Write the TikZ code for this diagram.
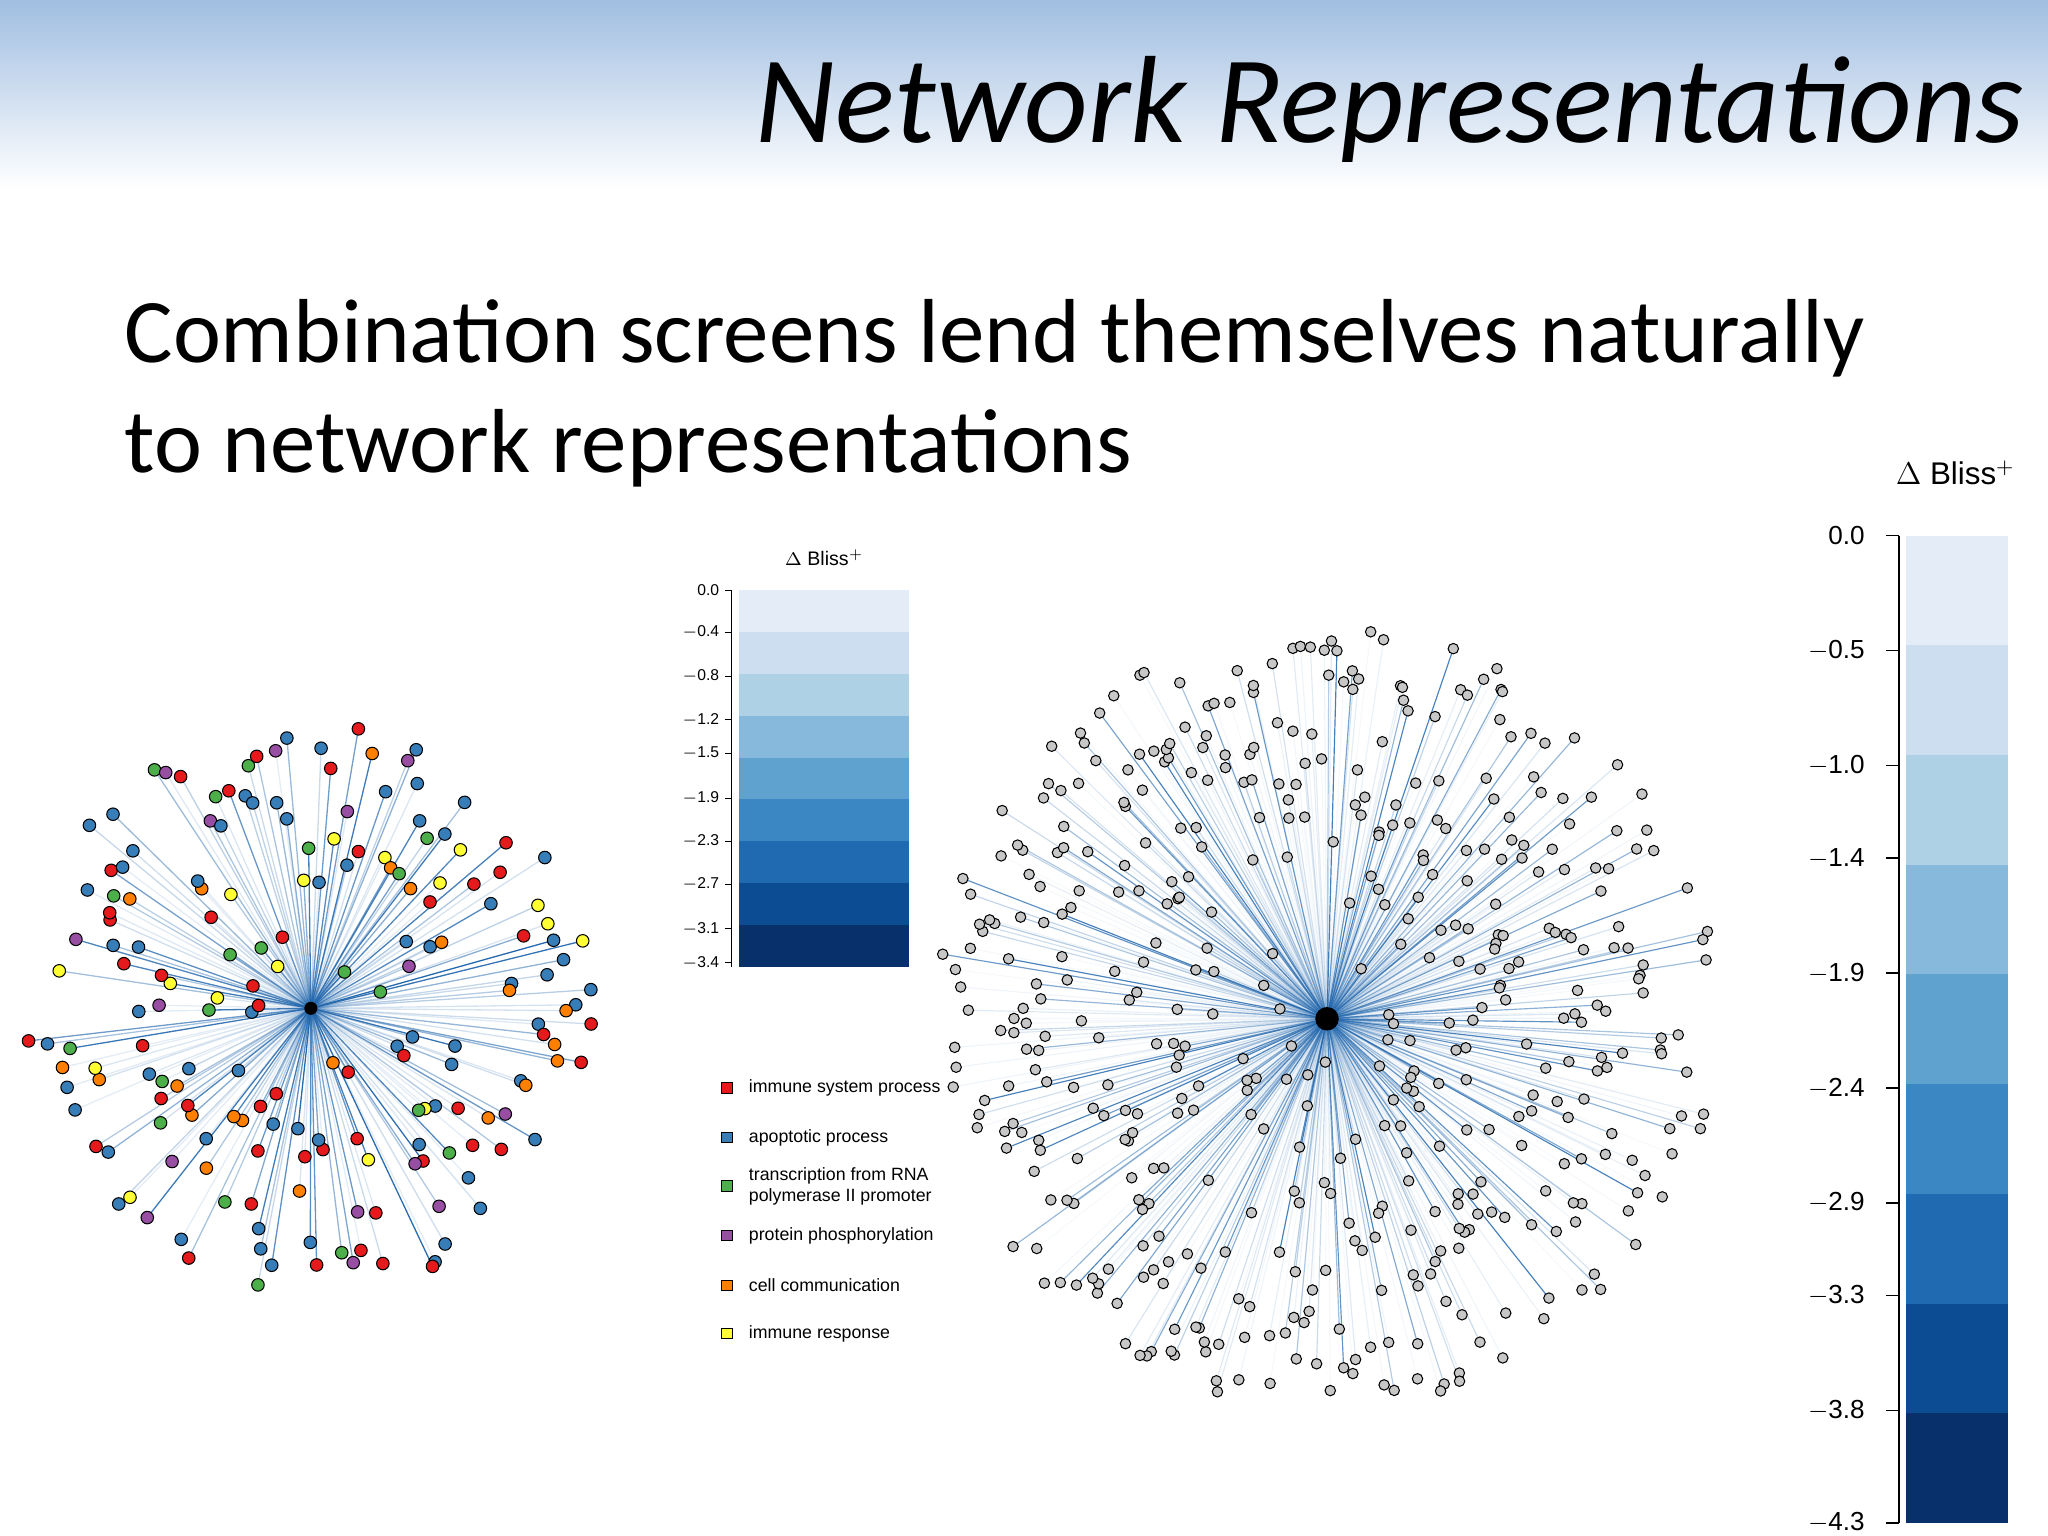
\documentclass[tikz,border=0pt]{standalone}
\usepackage{fontspec}
\usetikzlibrary{calc}
\setmainfont{Carlito}
\newfontfamily\hv{Liberation Sans}
\begin{document}
\begin{tikzpicture}[x=0.5pt,y=-0.5pt,
  nd/.style={circle,draw=black,line width=0.4pt,inner sep=0pt,minimum size=4.8pt},
  gnd/.style={circle,draw=black,fill=black!22,line width=0.4pt,inner sep=0pt,minimum size=4pt},
  lbl/.style={font=\hv\fontsize{6.8}{8}\selectfont,anchor=west,align=left,inner sep=0pt},
  sb/.style={font=\hv\fontsize{6}{7}\selectfont,anchor=east,inner sep=1pt},
  bb/.style={font=\hv\fontsize{10}{12}\selectfont,anchor=east,inner sep=1pt}]
\definecolor{cR}{HTML}{E41A1C}\definecolor{cB}{HTML}{377EB8}\definecolor{cG}{HTML}{4DAF4A}
\definecolor{cP}{HTML}{984EA3}\definecolor{cO}{HTML}{FF7F00}\definecolor{cY}{HTML}{FFFF33}
\definecolor{ed}{HTML}{2166AC}
\definecolor{b1}{HTML}{E3ECF7}\definecolor{b2}{HTML}{CDDEF0}\definecolor{b3}{HTML}{AED1E6}
\definecolor{b4}{HTML}{86B9DC}\definecolor{b5}{HTML}{5FA2CF}\definecolor{b6}{HTML}{3A87C3}
\definecolor{b7}{HTML}{1F6AB0}\definecolor{b8}{HTML}{0C4C92}\definecolor{b9}{HTML}{08306B}
\useasboundingbox (0,0) rectangle (1568,1176);
\shade[top color={rgb,255:red,160;green,190;blue,225},bottom color=white] (0,0) rectangle (1568,145);
\node[anchor=east,inner sep=0pt,font=\itshape\fontsize{47.5}{55}\selectfont] (title) at (1550,84) {Network Representations};
\node[anchor=north west,inner sep=0pt,align=left,font=\fontsize{34.8}{42}\selectfont] (body) at (95,229) {Combination screens lend themselves naturally\\to network representations};
% left network
\coordinate (lc) at (238,772);
\pgfmathsetseed{11}
\foreach \i in {1,...,185}{
  \pgfmathsetmacro\a{\i*1.946+rnd*1.9}\pgfmathsetmacro\r{30+190*sqrt(rnd)}
  \pgfmathsetmacro\op{0.12+0.88*rnd^2}\pgfmathrandominteger{\c}{1}{10}
  \draw[ed,opacity=\op,line width=0.5pt] (lc) -- ++(\a:\r);
}
\pgfmathsetseed{11}
\foreach \i in {1,...,185}{
  \pgfmathsetmacro\a{\i*1.946+rnd*1.9}\pgfmathsetmacro\r{30+190*sqrt(rnd)}
  \pgfmathsetmacro\op{0.12+0.88*rnd^2}\pgfmathrandominteger{\c}{1}{10}
  \edef\cc{\ifcase\c\or cR\or cR\or cR\or cB\or cB\or cB\or cG\or cP\or cO\or cY\fi}
  \node[nd,fill=\cc] at ($(lc)+(\a:\r)$) {};
}
\fill (lc) circle[radius=5];
% right network
\coordinate (rc) at (1016,780);
\pgfmathsetseed{23}
\foreach \i in {1,...,470}{
  \pgfmathsetmacro\a{\i*0.766+rnd*0.76}\pgfmathsetmacro\r{25+275*sqrt(rnd)}
  \pgfmathsetmacro\op{0.04+0.8*rnd^3}
  \draw[ed,opacity=\op,line width=0.45pt] (rc) -- ++(\a:\r);
}
\pgfmathsetseed{23}
\foreach \i in {1,...,470}{
  \pgfmathsetmacro\a{\i*0.766+rnd*0.76}\pgfmathsetmacro\r{25+275*sqrt(rnd)}
  \pgfmathsetmacro\op{0.04+0.8*rnd^3}
  \node[gnd] at ($(rc)+(\a:\r)$) {};
}
\fill (rc) circle[radius=9];
% small colour bar
\foreach \k [count=\j from 0] in {b1,b2,b3,b4,b5,b6,b7,b8,b9}
  \fill[\k] (566,{452+\j*32}) rectangle (696,{452+(\j+1)*32});
\draw[line width=0.4pt] (560,452) -- (560,740);
\foreach \v/\y in {0.0/452,{$-$0.4}/484,{$-$0.8}/518,{$-$1.2}/551,{$-$1.5}/577,{$-$1.9}/611,{$-$2.3}/644,{$-$2.7}/677,{$-$3.1}/711,{$-$3.4}/737}{
  \draw[line width=0.4pt] (555,\y) -- (560,\y);
  \node[sb] at (553,\y) {\v};}
\node[font=\hv\fontsize{7.5}{9}\selectfont] (st) at (631,427) {$\Delta$ Bliss$^{+}$};
% legend
\foreach \k/\t/\y in {cR/immune system process/833,cB/apoptotic process/871,cG/{transcription from RNA\\polymerase II promoter}/908,cP/protein phosphorylation/946,cO/cell communication/984,cY/immune response/1021}{
  \fill[\k,draw=black,line width=0.3pt] (552,{\y-4}) rectangle (561,{\y+4});
  \node[lbl] at (573,\y) {\t};}
% big colour bar
\foreach \k [count=\j from 0] in {b1,b2,b3,b4,b5,b6,b7,b8,b9}
  \fill[\k] (1459,{410+\j*84}) rectangle (1537,{410+(\j+1)*84});
\draw[line width=0.5pt] (1454,410) -- (1454,1166);
\foreach \v/\y in {0.0/410,{$-$0.5}/498,{$-$1.0}/586,{$-$1.4}/657,{$-$1.9}/745,{$-$2.4}/833,{$-$2.9}/921,{$-$3.3}/992,{$-$3.8}/1080,{$-$4.3}/1166}{
  \draw[line width=0.5pt] (1444,\y) -- (1454,\y);
  \node[bb] at (1430,\y) {\v};}
\node[font=\hv\fontsize{12}{14}\selectfont] (bt) at (1497,362) {$\Delta$ Bliss$^{+}$};
\end{tikzpicture}
\end{document}
